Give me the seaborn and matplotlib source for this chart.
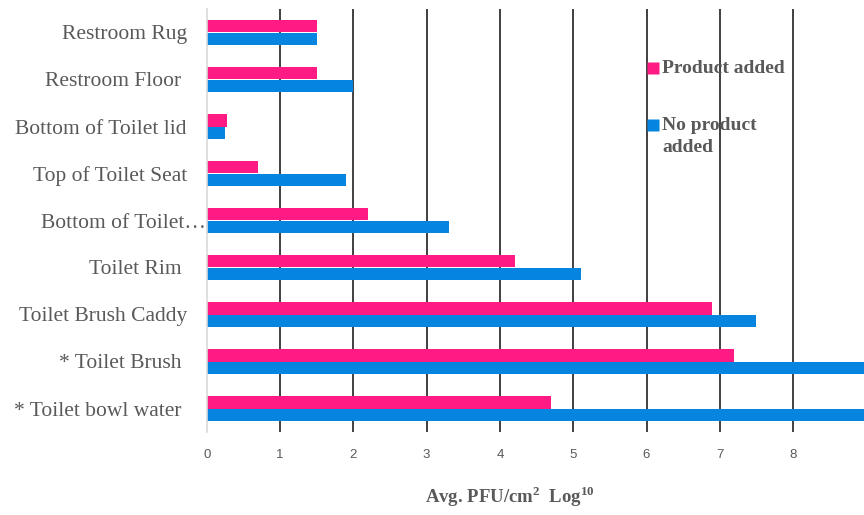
import matplotlib
matplotlib.use("Agg")
import matplotlib.pyplot as plt
import matplotlib.transforms as mtransforms
from matplotlib.lines import Line2D
import seaborn as sns
import pandas as pd

categories = ["Restroom Rug", "Restroom Floor ", "Bottom of Toilet lid", "Top of Toilet Seat",
              "Bottom of Toilet\u2026", "Toilet Rim ", "Toilet Brush Caddy", "* Toilet Brush ",
              "* Toilet bowl water "]
product_added = [1.5, 1.5, 0.28, 0.7, 2.2, 4.2, 6.9, 7.2, 4.7]
no_product_added = [1.5, 2.0, 0.25, 1.9, 3.3, 5.1, 7.5, 9.0, 9.0]
series_names = ["Product added", "No product added"]
legend_labels = ["Product added", "No product\nadded"]
x_ticks = [0, 1, 2, 3, 4, 5, 6, 7, 8, 9]
x_tick_labels = ["0", "1", "2", "3", "4", "5", "6", "7", "8", ""]
colors = ["#FF1A84", "#0585E0"]

df = pd.DataFrame({
    "location": categories * 2,
    "value": product_added + no_product_added,
    "series": [series_names[0]] * len(categories) + [series_names[1]] * len(categories),
})

sns.set_theme(style="white")
plt.rcParams["font.family"] = ["Liberation Serif", "DejaVu Serif"]
plt.rcParams["mathtext.fontset"] = "custom"
plt.rcParams["mathtext.rm"] = "Liberation Serif"
plt.rcParams["mathtext.bf"] = "Liberation Serif:bold"

fig = plt.figure(figsize=(8.64, 5.15), dpi=100)
ax = fig.add_axes([206.7 / 864, 1 - 432 / 515, 659.7 / 864, (432 - 9) / 515])

sns.barplot(data=df, y="location", x="value", hue="series", hue_order=series_names,
            order=categories, palette=colors, saturation=1, orient="h", width=0.52, gap=0,
            linewidth=0, legend=False, ax=ax)

ax.set_xlim(0, 9)
ax.set_xticks(x_ticks)
ax.set_xticklabels(x_tick_labels, family=["Liberation Sans", "DejaVu Sans"],
                   fontsize=9.5, color="#595959")
ax.tick_params(axis="x", length=0, pad=12)
ax.tick_params(axis="y", length=0, pad=14.2, labelsize=15.5, labelcolor="#595959")
ax.set_xlabel("")
ax.set_ylabel("")

ax.set_axisbelow(True)
ax.grid(axis="x", color="#404040", linewidth=1.4)
ax.grid(axis="y", visible=False)
ax.get_xgridlines()[0].set_visible(False)
for s in ["top", "right", "bottom"]:
    ax.spines[s].set_visible(False)
ax.spines["left"].set_color("#D9D9D9")
ax.spines["left"].set_linewidth(1.2)

# truncated label sits closer to the axis
lbl = ax.get_yticklabels()[4]
lbl.set_transform(lbl.get_transform() + mtransforms.ScaledTranslation(19 / 100, 0, fig.dpi_scale_trans))

fig.text(510 / 864, 1 - 497 / 515, r"Avg. PFU/cm$^{\mathbf{2}}$  Log$^{\mathbf{10}}$",
         ha="center", va="center", fontsize=13.5, fontweight="bold", color="#595959",
         family=["Liberation Serif", "DejaVu Serif"])

handles = [Line2D([], [], linestyle="none", marker="s", markersize=8,
                  markerfacecolor=c, markeredgecolor="none") for c in colors]
leg = ax.legend(handles, legend_labels, loc="upper left",
                bbox_to_anchor=(647 / 864, 1 - 60 / 515), bbox_transform=fig.transFigure,
                frameon=False, fontsize=14, handlelength=0.62, handleheight=1.15,
                handletextpad=0.15, labelspacing=1.95, borderpad=0, borderaxespad=0)
for t in leg.get_texts():
    t.set_color("#595959")
    t.set_fontweight("bold")
    t.set_linespacing(1.4)
for col in leg._legend_handle_box.get_children():
    for row in col.get_children():
        row.align = "top"

fig.savefig("out.png", dpi=100)
